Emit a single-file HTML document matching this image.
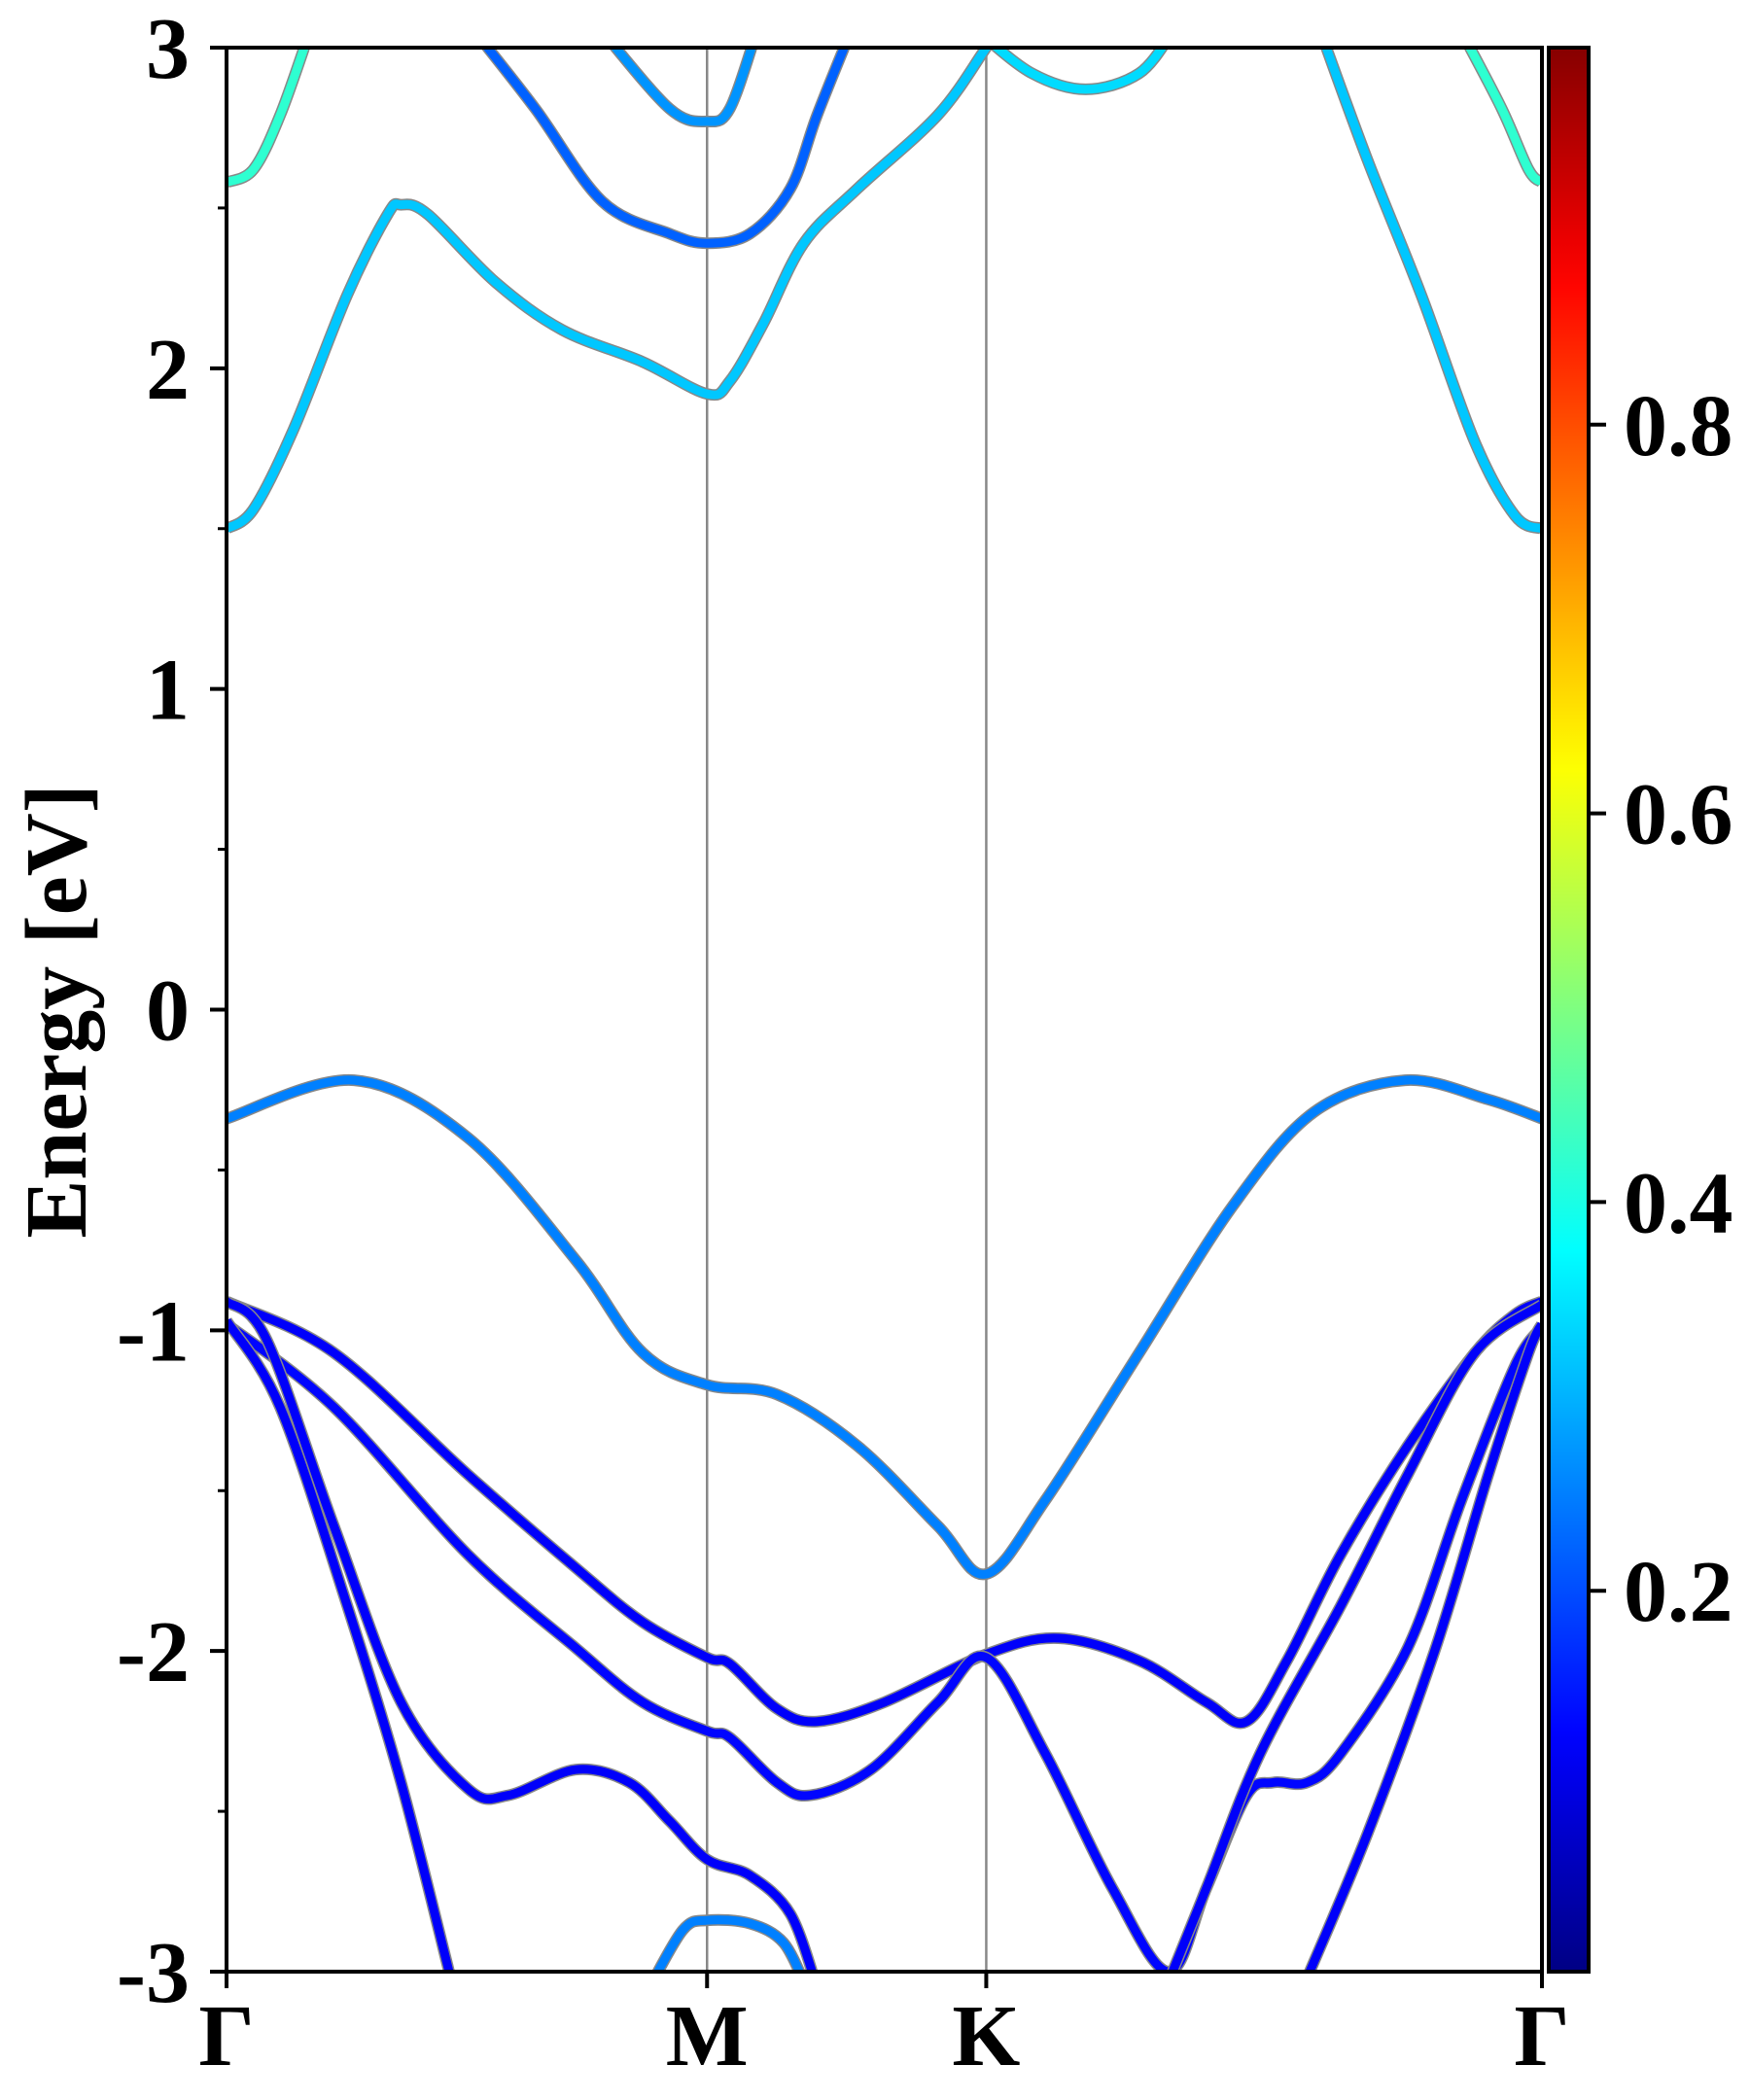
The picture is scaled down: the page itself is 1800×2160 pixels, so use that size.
<!DOCTYPE html>
<html><head><meta charset="utf-8">
<style>
html,body{margin:0;padding:0;background:#fff;}
svg{display:block;}
text{font-family:"Liberation Serif","DejaVu Serif",serif;font-weight:bold;fill:#000;}
</style></head>
<body>
<svg id="chart" width="1800" height="2160" viewBox="0 0 1800 2160" xmlns="http://www.w3.org/2000/svg">
<defs>
<clipPath id="plotclip"><rect x="233" y="49" width="1353" height="1979"/></clipPath>
<linearGradient id="jetgrad" x1="0" y1="1" x2="0" y2="0"></linearGradient>
</defs>
<g id="vlines"></g>
<g id="bands" clip-path="url(#plotclip)"></g>
<rect x="233" y="49" width="1353" height="1979" fill="none" stroke="#000" stroke-width="4"/>
<g id="yaxis"></g>
<g id="xaxis"></g>
<text x="0" y="0" font-size="90" text-anchor="middle" transform="translate(88,1040) rotate(-90)">Energy [eV]</text>
<g id="cbar"></g>
</svg>
<script>
// ---- data ----
const kTickLabels = ["Γ","M","K","Γ"];
const kTickPos = [0, 358, 566, 980];       // path distance units
const yTicks = [-3,-2,-1,0,1,2,3];
const yMinorTicks = [-2.5,-1.5,-0.5,0.5,1.5,2.5];
const cbTicks = [0.2,0.4,0.6,0.8];
const cbTickLabels = ["0.2","0.4","0.6","0.8"];

const vb1K = [0,95,180,260,310,358,410,470,530,566,610,680,750,810,878,940,980];
const vb1E = [-0.34,-0.22,-0.40,-0.78,-1.07,-1.17,-1.20,-1.36,-1.61,-1.76,-1.53,-1.07,-0.61,-0.32,-0.22,-0.28,-0.34];
const bandAK = [0,80,180,260,310,358,375,410,440,490,566,620,680,730,760,790,830,880,930,960,980];
const bandAE = [-0.91,-1.07,-1.45,-1.74,-1.91,-2.02,-2.04,-2.18,-2.22,-2.16,-2.01,-1.96,-2.03,-2.16,-2.22,-2.03,-1.70,-1.36,-1.07,-0.95,-0.91];
const bandBK = [0,80,180,260,310,358,375,410,435,480,530,566,610,660,702,730,760,780,805,830,880,920,960,980];
const bandBE = [-0.98,-1.24,-1.70,-1.99,-2.16,-2.25,-2.27,-2.41,-2.45,-2.37,-2.16,-2.02,-2.32,-2.74,-3.0,-2.74,-2.45,-2.41,-2.41,-2.32,-1.99,-1.53,-1.11,-0.99];
const bandCK = [0,30,80,130,180,210,260,300,330,358,390,420,440];
const bandCE = [-0.91,-1.03,-1.61,-2.16,-2.43,-2.45,-2.37,-2.41,-2.53,-2.65,-2.70,-2.82,-3.05];
const bandCRK = [700,730,770,830,880,930,980];
const bandCRE = [-3.05,-2.74,-2.32,-1.86,-1.45,-1.07,-0.92];
const bandDK = [0,40,90,130,167];
const bandDE = [-0.97,-1.24,-1.86,-2.41,-3.02];
const bandDRK = [805,850,900,940,970,980];
const bandDRE = [-3.02,-2.57,-2.0,-1.45,-1.07,-0.98];
const mLowK = [315,340,358,390,415,432];
const mLowE = [-3.05,-2.87,-2.84,-2.85,-2.91,-3.05];
const cb1K = [0,20,50,90,120,130,150,200,250,310,358,375,400,430,470,530,566,580];
const cb1E = [1.50,1.56,1.81,2.23,2.48,2.51,2.48,2.27,2.12,2.02,1.92,1.96,2.14,2.39,2.56,2.79,3.0,3.08];
const cb1RK = [815,850,890,930,960,980];
const cb1RE = [3.05,2.65,2.23,1.77,1.54,1.50];
const cb2K = [185,230,280,330,358,390,420,440,465];
const cb2E = [3.05,2.81,2.52,2.42,2.39,2.42,2.56,2.79,3.05];
const cb3K = [280,330,358,375,395];
const cb3E = [3.05,2.81,2.77,2.81,3.05];
const cb0K = [0,20,40,62];
const cb0E = [2.58,2.62,2.79,3.05];
const cb0RK = [920,950,970,980];
const cb0RE = [3.05,2.81,2.62,2.58];
const kBandK = [560,600,640,680,705];
const kBandE = [3.05,2.92,2.87,2.92,3.05];
const bandWeights = [0.25,0.12,0.13,0.12,0.12,0.12,0.12,0.25,0.32,0.32,0.22,0.27,0.42,0.42,0.34];

// ---- scales ----
const X0=233,X1=1586,Y0=49,Y1=2028;
const xS = k => X0 + k/980*(X1-X0);
const yS = e => Y0 + (3-e)/6*(Y1-Y0);
const CBV0=0.004, CBV1=0.994;
const cbY = v => Y1 - (v-CBV0)/(CBV1-CBV0)*(Y1-Y0);
function jet(w){
  const c=t=>Math.round(255*Math.max(0,Math.min(1,t)));
  return `rgb(${c(1.5-Math.abs(4*w-3))},${c(1.5-Math.abs(4*w-2))},${c(1.5-Math.abs(4*w-1))})`;
}
const NS="http://www.w3.org/2000/svg";
function mk(tag,attrs,parent){const e=document.createElementNS(NS,tag);for(const a in attrs)e.setAttribute(a,attrs[a]);parent.appendChild(e);return e;}

function pathD(ks,es){
  const p=ks.map((k,i)=>[xS(k),yS(es[i])]);
  let d=`M${p[0][0].toFixed(1)},${p[0][1].toFixed(1)}`;
  for(let i=0;i<p.length-1;i++){
    const p0=p[i-1]||p[i],p1=p[i],p2=p[i+1],p3=p[i+2]||p[i+1];
    const c1=[p1[0]+(p2[0]-p0[0])/6,p1[1]+(p2[1]-p0[1])/6];
    const c2=[p2[0]-(p3[0]-p1[0])/6,p2[1]-(p3[1]-p1[1])/6];
    d+=` C${c1[0].toFixed(1)},${c1[1].toFixed(1)} ${c2[0].toFixed(1)},${c2[1].toFixed(1)} ${p2[0].toFixed(1)},${p2[1].toFixed(1)}`;
  }
  return d;
}

// high-symmetry lines
const vg=document.getElementById('vlines');
[kTickPos[1],kTickPos[2]].forEach(k=>{
  const l=mk('line',{x1:xS(k),x2:xS(k),y1:Y0,y2:Y1,stroke:'#888',"stroke-width":2.5},vg);
  
  
});

// bands
const bandList=[[vb1K,vb1E],[bandAK,bandAE],[bandBK,bandBE],[bandCK,bandCE],[bandCRK,bandCRE],[bandDK,bandDE],[bandDRK,bandDRE],[mLowK,mLowE],[cb1K,cb1E],[cb1RK,cb1RE],[cb2K,cb2E],[cb3K,cb3E],[cb0K,cb0E],[cb0RK,cb0RE],[kBandK,kBandE]];
const bg=document.getElementById('bands');
bandList.forEach((b,i)=>{
  const d=pathD(b[0],b[1]);
  const o=mk('path',{d:d,fill:'none',stroke:'#888',"stroke-width":12,"stroke-linecap":"butt","stroke-linejoin":"round"},bg);
  
  
  const p=mk('path',{d:d,fill:'none',stroke:jet(bandWeights[i]),"stroke-width":9,"stroke-linejoin":"round"},bg);
  
  
});

// y axis
const yg=document.getElementById('yaxis');
yTicks.forEach(v=>{
  const t=mk('line',{x1:X0-17,x2:X0,y1:yS(v),y2:yS(v),stroke:'#000',"stroke-width":4},yg);
  
  
  const tx=mk('text',{x:195,y:yS(v)+31,"font-size":90,"text-anchor":"end"},yg);
  tx.textContent=String(v);
  
  
});
yMinorTicks.forEach(v=>{
  const t=mk('line',{x1:X0-9,x2:X0,y1:yS(v),y2:yS(v),stroke:'#000',"stroke-width":3},yg);
  
  
});
// x axis
const xg=document.getElementById('xaxis');
kTickPos.forEach((k,i)=>{
  const t=mk('line',{x1:xS(k),x2:xS(k),y1:Y1,y2:Y1+17,stroke:'#000',"stroke-width":4},xg);
  
  
  const tx=mk('text',{x:xS(k),y:2124,"font-size":90,"text-anchor":"middle"},xg);
  tx.textContent=kTickLabels[i];
  
  
});

// colorbar
const grad=document.getElementById('jetgrad');
for(let i=0;i<=40;i++){
  const w=CBV0+(CBV1-CBV0)*i/40;
  const s=mk('stop',{offset:(i/40).toFixed(3),"stop-color":jet(w)},grad);
  
  
}
const cg=document.getElementById('cbar');
const cr=mk('rect',{x:1593,y:Y0,width:41,height:Y1-Y0,fill:'url(#jetgrad)',stroke:'#000',"stroke-width":4},cg);


cbTicks.forEach((v,i)=>{
  const t=mk('line',{x1:1634,x2:1652,y1:cbY(v),y2:cbY(v),stroke:'#000',"stroke-width":4},cg);
  
  
  const tx=mk('text',{x:1670,y:cbY(v)+31,"font-size":90},cg);
  tx.textContent=cbTickLabels[i];
  
  
});
</script>
</body></html>
